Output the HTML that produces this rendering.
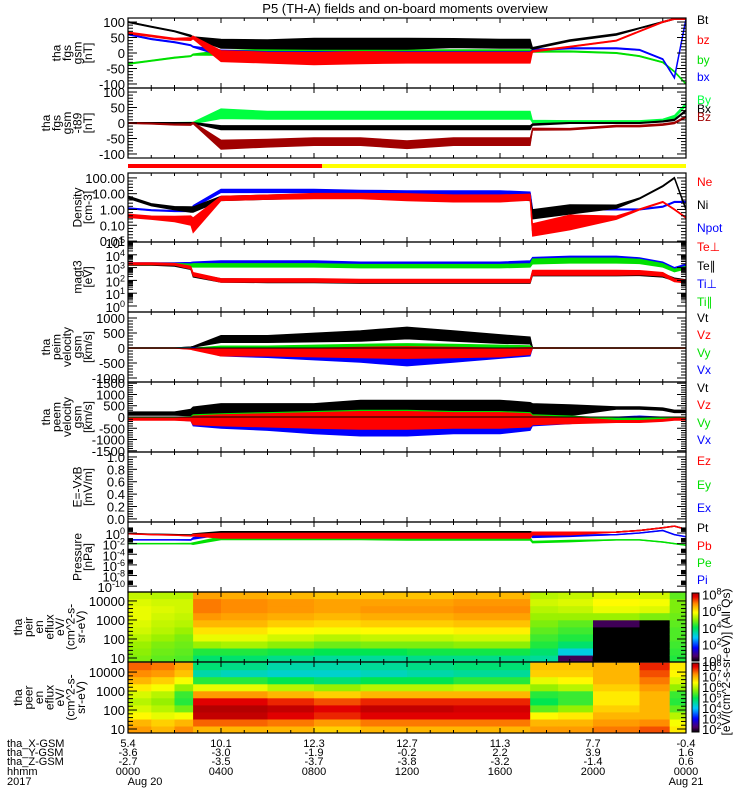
<!DOCTYPE html>
<html><head><meta charset="utf-8"><style>
html,body{margin:0;padding:0;background:#fff;}
svg{display:block;font-family:"Liberation Sans",sans-serif;}
</style></head><body>
<svg id="chart" width="750" height="800" viewBox="0 0 750 800">
<rect width="750" height="800" fill="#fff"/>
<text x="405" y="13" text-anchor="middle" font-size="13">P5 (TH-A) fields and on-board moments overview</text>
<g id="layer"></g>
</svg>
<script>
// ---- shared time grid (hours since 2017-08-20 00:00) ----
const T = [0,1,2,2.7,2.8,4,6,8,10,12,14,16,17.3,17.4,19,21,22,23,23.5,24];
// panel 1: fgs gsm [nT]
const fgsBt = [100,85,70,55,50,30,28,30,30,30,32,30,30,15,40,60,80,100,110,110];
const fgsBtS = [2,2,2,3,3,15,15,18,18,18,15,15,15,3,3,3,2,2,2,2];
const fgsBz = [65,55,45,45,50,-10,-15,-18,-15,-15,-15,-15,-15,5,20,40,70,100,110,110];
const fgsBzS = [3,3,3,5,5,18,18,20,20,18,18,18,18,3,2,2,2,2,2,2];
const fgsBy = [-35,-25,-15,-10,-5,0,5,5,3,3,3,3,3,5,5,0,-10,-30,-60,-100];
const fgsByS = [2,2,2,2,2,8,8,8,8,8,8,8,8,3,2,2,2,2,2,2];
const fgsBx = [60,45,35,25,20,0,-5,-5,-5,-5,-5,-5,-5,10,15,15,10,-20,-80,110];
const fgsBxS = [2,2,2,2,2,10,10,10,10,10,10,10,10,3,2,2,2,2,2,2];
// panel 2: fgs gsm -t89 [nT]
const dBy = [0,0,0,0,0,30,25,25,25,25,25,25,25,5,5,5,5,10,20,60];
const dByS = [2,2,2,3,3,16,13,13,13,13,13,13,13,4,3,3,3,3,5,5];
const dBx = [0,0,0,0,0,-15,-15,-15,-15,-15,-15,-15,-15,-5,0,0,0,5,10,40];
const dBxS = [2,2,2,2,2,7,7,7,7,7,7,7,7,3,2,2,2,2,3,3];
const dBz = [0,-2,-5,-5,0,-70,-65,-60,-60,-70,-60,-60,-60,-20,-20,-10,-10,-5,0,20];
const dBzS = [2,2,2,3,3,15,13,13,13,13,13,13,13,4,3,3,3,3,3,3];
// density [cm-3]
const Ne = [0.4,0.3,0.25,0.2,0.1,5,6,7,7,6,5,5,6,0.05,0.15,0.3,1,3,1,0.3];
const NeF = [1.3,1.3,1.5,2,3,1.4,1.4,1.5,1.5,1.7,1.7,1.7,1.6,2.5,3,1.3,1.1,1.1,1.1,1.1];
const Ni = [6,2,1.2,1,1,5,6,7,7,6,6,6,5,0.5,1,1.5,5,30,100,1];
const NiF = [1.2,1.2,1.3,1.5,1.5,1.4,1.4,1.4,1.4,1.4,1.4,1.4,1.4,2,2,1.3,1.1,1.1,1.1,1.1];
const Npot = [1.2,0.9,0.8,0.8,1.5,15,15,15,13,12,12,12,10,0.9,1,1,1,1.5,3,3];
const NpotF = [1.1,1.1,1.1,1.1,1.2,1.3,1.3,1.3,1.3,1.3,1.3,1.3,1.3,1.1,1.1,1.1,1.1,1.1,1.1,1.1];
// magt3 [eV]
const TeP = [2000,2000,1800,1000,300,100,100,100,90,90,90,90,90,400,400,400,400,300,100,80];
const TeL = [1800,1800,1500,900,250,100,90,90,80,80,80,80,80,350,350,350,350,250,120,90];
const TiP = [2000,2000,2000,2000,2000,2500,2500,2500,2000,2000,2000,2000,2500,4000,5000,5000,4000,2000,800,1500];
const TiL = [1800,1800,1800,1500,1500,1500,1500,1500,1300,1300,1300,1300,1500,3000,3500,3500,3000,1500,600,1000];
const TF = [1.2,1.2,1.2,1.3,1.4,1.4,1.4,1.4,1.4,1.4,1.4,1.4,1.4,1.6,1.6,1.6,1.5,1.4,1.3,1.3];
// peim velocity [km/s]
const iVt = [0,0,0,20,40,300,300,350,400,500,400,300,250,0,0,0,0,0,0,0];
const iVx = [0,0,0,0,0,-150,-200,-250,-300,-400,-300,-200,-150,0,0,0,0,0,0,0];
const iVz = [0,0,0,-30,-50,-150,-150,-150,-150,-150,-150,-150,-100,0,0,0,0,0,0,0];
const iVy = [0,0,0,-10,-20,-50,-50,-50,-50,-50,-50,-50,-40,0,0,0,0,0,0,0];
const iVS = [5,5,5,20,20,120,120,150,180,200,180,150,120,10,5,5,5,5,5,5];
// peem velocity [km/s]
const eVt = [150,150,150,200,250,300,300,300,350,350,350,350,300,300,300,400,400,350,250,250];
const eVtS = [80,80,80,150,200,300,300,300,400,400,400,400,350,300,250,60,60,60,60,60];
const eVx = [-80,-80,-80,-100,-200,-250,-300,-400,-450,-450,-400,-400,-300,-200,-150,-50,0,-50,-50,-50];
const eVz = [-100,-100,-100,-100,-150,-150,-150,-150,-150,-150,-150,-150,-150,-150,-150,-200,-200,-150,-100,-100];
const eVy = [-50,-50,-50,-60,-100,-100,-100,-100,-100,-100,-100,-100,-100,-100,-100,-100,-100,-80,-60,-60];
const eVS = [50,50,50,80,200,250,300,350,400,400,350,350,300,200,150,50,50,50,50,50];
// pressure [nPa]
const Pt = [0.8,0.6,0.5,0.4,0.5,1,1,1,1,1,1,1,1,1,1,1.5,3,10,20,5];
const Pb = [0.7,0.5,0.4,0.3,0.4,0.3,0.3,0.3,0.3,0.3,0.3,0.3,0.3,0.8,0.8,1.5,3,10,20,5];
const PbF = [1.1,1.1,1.1,1.2,1.5,3,3,3,3,3,3,3,3,2,2,1.1,1.1,1.1,1.1,1.1];
const Pe = [0.01,0.01,0.01,0.01,0.01,0.1,0.1,0.1,0.1,0.08,0.08,0.08,0.08,0.02,0.03,0.05,0.05,0.02,0.01,0.005];
const Pi = [0.05,0.05,0.05,0.05,0.1,0.8,0.8,0.8,0.7,0.7,0.7,0.7,0.6,0.2,0.3,0.5,1,3,0.5,0.2];
const PF = [1.1,1.1,1.1,1.2,1.5,2,2,2,2,2,2,2,2,1.5,1.5,1.1,1.1,1.1,1.1,1.1];
// spectrograms (log10 eflux per energy bin, low->high energy)
const specT = [0,1,2,2.8,4,6,8,10,12,14,17.3,18.5,20,22,23.3,24];
const specLogE = [0.79,4.5];
const ionFlux = [
 [4.8,4.9,5,5.2,5.4,5.5,5.6,5.6,5.5,5.3],
 [4.6,4.7,4.8,5,5.2,5.3,5.4,5.5,5.4,5.2],
 [4.5,4.6,4.7,4.8,5,5.2,5.3,5.4,5.4,5.2],
 [3.8,4.2,5,5.6,6,6.4,6.7,6.9,6.9,6.6],
 [3.8,4.2,5.1,5.6,6,6.4,6.6,6.8,6.8,6.5],
 [3.6,4.1,4.9,5.4,5.8,6.2,6.5,6.7,6.7,6.4],
 [3.5,4,4.7,5.2,5.7,6.1,6.4,6.6,6.6,6.3],
 [3.5,4,4.8,5.3,5.8,6.2,6.5,6.7,6.6,6.3],
 [3.6,4.1,4.8,5.3,5.8,6.2,6.5,6.7,6.6,6.3],
 [3.6,4.1,4.9,5.4,5.9,6.3,6.6,6.8,6.7,6.4],
 [3.5,3.8,4.2,4.4,4.6,4.8,5,5.2,5.4,5.2],
 [0.5,3,3.8,4.2,4.4,4.6,5,5.3,5.5,5.3],
 [0,0,0,0,0,0.5,5,5.6,5.8,5.5],
 [0,0,0,0,0,0,4.8,5.5,5.7,5.4],
 [4.2,4.3,4.4,4.5,4.5,4.6,4.7,4.8,4.8,4.6]];
const eleFlux = [
 [7.2,7,6.5,6.2,6,6.2,6.6,7,7.3,7.5],
 [7,6.8,6.3,6,5.8,6,6.4,6.8,7.2,7.4],
 [7.3,7,6.4,5.6,5.2,5.3,5.8,6.4,6.9,7.1],
 [7,7.5,8.2,8.3,8,7.2,6.3,5.2,4.5,4.8],
 [7,7.5,8.2,8.3,8,7.2,6.3,5.2,4.4,4.7],
 [7,7.4,8,8.2,7.8,7,6,5,4.3,4.5],
 [6.8,7.2,7.8,8,7.6,6.8,5.8,4.8,4.3,4.5],
 [7,7.4,8,8.2,7.8,7,6,5,4.4,4.6],
 [7,7.4,8,8.2,7.8,7,6,5,4.5,4.7],
 [7,7.4,8,8.1,7.8,7,6.1,5.2,4.6,4.8],
 [7.2,7,6.5,5.5,5,5.2,5.8,6.3,6.8,6.9],
 [7.2,7,6.6,5.8,5.3,5.3,6,6.5,6.8,6.9],
 [7.4,7.2,7,6.8,6.6,6.6,6.8,7,7,7],
 [7.6,7.3,7,7,7,7,7.2,7.4,7.6,7.8],
 [6.6,6.4,6,5.5,5.2,5.3,5.8,6.2,6.5,6.6]];
// bottom axis labels
const tickHours = [0,4,8,12,16,20,24];
const xGsm = ["5.4","10.1","12.3","12.7","11.3","7.7","-0.4"];
const yGsm = ["-3.6","-3.0","-1.9","-0.2","2.2","3.9","1.6"];
const zGsm = ["-2.7","-3.5","-3.7","-3.8","-3.2","-1.4","0.6"];
const hhmm = ["0000","0400","0800","1200","1600","2000","0000"];

const NS='http://www.w3.org/2000/svg';
const L=document.getElementById('layer');
const X0=128,X1=686;
function xs(t){return X0+(t/24)*(X1-X0);}
function el(tag,attrs,parent){const e=document.createElementNS(NS,tag);for(const k in attrs)e.setAttribute(k,attrs[k]);(parent||L).appendChild(e);return e;}
function mkPanel(top,bot,lo,hi,log){return {top,bot,lo,hi,log,y(v){let u=log?Math.log10(Math.max(v,1e-30)):v;return bot-(u-lo)/(hi-lo)*(bot-top);}};}
const P={
 fgs:mkPanel(18,88,-113,113,false),
 dsl:mkPanel(88,158,-113,113,false),
 den:mkPanel(173,242,-2.06,2.31,true),
 tem:mkPanel(242,312,-0.47,5.0,true),
 vim:mkPanel(312,382,-1133,1200,false),
 vem:mkPanel(382,452,-1555,1555,false),
 efd:mkPanel(452,522,-0.05,1.08,false),
 prs:mkPanel(522,592,-11.1,2.07,true),
 si:mkPanel(592,662,0.79,4.47,true),
 se:mkPanel(662,733,0.79,4.53,true)
};
const defs=el('defs',{});
Object.keys(P).forEach(k=>{const p=P[k];const c=el('clipPath',{id:'c_'+k},defs);el('rect',{x:X0,y:p.top,width:X1-X0,height:p.bot-p.top},c);});

function series(key,vals,spread,mode,color,name){
 const p=P[key];const g=el('g',{'clip-path':'url(#c_'+key+')'});
 
 
 if(spread){let up=[],dn=[];
  for(let i=0;i<T.length;i++){const v=vals[i],s=spread[i];
   const a=mode==='log'?v*s:v+s, b=mode==='log'?v/s:v-s;
   up.push(xs(T[i]).toFixed(1)+','+p.y(a).toFixed(1));dn.unshift(xs(T[i]).toFixed(1)+','+p.y(b).toFixed(1));}
  el('polygon',{points:up.concat(dn).join(' '),fill:color,stroke:color,'stroke-width':0.8},g);}
 const pts=T.map((t,i)=>xs(t).toFixed(1)+','+p.y(vals[i]).toFixed(1)).join(' ');
 el('polyline',{points:pts,fill:'none',stroke:color,'stroke-width':1.5},g);
}
series('fgs',fgsBy,fgsByS,'lin','#00e000','series-by');
series('fgs',fgsBx,fgsBxS,'lin','#0000ff','series-bx');
series('fgs',fgsBt,fgsBtS,'lin','#000','series-bt');
series('fgs',fgsBz,fgsBzS,'lin','#ff0000','series-bz');
series('dsl',dBy,dByS,'lin','#00ff40','series-dby');
series('dsl',dBx,dBxS,'lin','#000','series-dbx');
series('dsl',dBz,dBzS,'lin','#a00000','series-dbz');
series('den',Npot,NpotF,'log','#0000ff','series-npot');
series('den',Ni,NiF,'log','#000','series-ni');
series('den',Ne,NeF,'log','#ff0000','series-ne');
series('tem',TiP,TF,'log','#0000ff','series-ti-perp');
series('tem',TiL,TF,'log','#00e000','series-ti-par');
series('tem',TeL,TF,'log','#000','series-te-par');
series('tem',TeP,TF,'log','#ff0000','series-te-perp');
series('vim',iVt,iVS,'lin','#000','series-peim-vt');
series('vim',iVx,iVS,'lin','#0000ff','series-peim-vx');
series('vim',iVy,iVS,'lin','#00e000','series-peim-vy');
series('vim',iVz,iVS,'lin','#ff0000','series-peim-vz');
series('vem',eVt,eVtS,'lin','#000','series-peem-vt');
series('vem',eVx,eVS,'lin','#0000ff','series-peem-vx');
series('vem',eVy,eVS,'lin','#00e000','series-peem-vy');
series('vem',eVz,eVS,'lin','#ff0000','series-peem-vz');
series('prs',Pe,PF,'log','#00e000','series-pe');
series('prs',Pi,PF,'log','#0000ff','series-pi');
series('prs',Pt,PF,'log','#000','series-pt');
series('prs',Pb,PbF,'log','#ff0000','series-pb');

[['vim',0],['vem',0]].forEach(([k,v])=>{const p=P[k];const ln=el('line',{x1:X0,x2:X1,y1:p.y(v),y2:p.y(v),stroke:'#000','stroke-width':1});});

const CM=[[0,0,0,0],[0.08,80,0,110],[0.2,0,0,255],[0.35,0,200,255],[0.5,0,230,80],[0.62,150,240,0],[0.72,255,255,0],[0.85,255,140,0],[0.95,230,0,0],[1,180,0,0]];
function cmap(t){t=Math.max(0,Math.min(1,t));for(let i=1;i<CM.length;i++){if(t<=CM[i][0]){const a=CM[i-1],b=CM[i],f=(t-a[0])/(b[0]-a[0]);return 'rgb('+[1,2,3].map(j=>Math.round(a[j]+f*(b[j]-a[j]))).join(',')+')';}}return 'rgb(180,0,0)';}
function spec(key,flux,norm,name){
 const p=P[key];const g=el('g',{'clip-path':'url(#c_'+key+')'});
 
 
 const nb=flux[0].length,e0=specLogE[0],e1=specLogE[1],de=(e1-e0)/nb;
 for(let i=0;i<flux.length;i++){const xa=xs(specT[i]),xb=xs(specT[i+1]);
  for(let j=0;j<nb;j++){const ya=p.y(Math.pow(10,e0+(j+1)*de)),yb=p.y(Math.pow(10,e0+j*de));
   const c=el('rect',{x:xa.toFixed(1),y:ya.toFixed(1),width:(xb-xa+0.6).toFixed(1),height:(yb-ya+0.6).toFixed(1),fill:cmap(norm(flux[i][j]))},g);
   
   }}
}
spec('si',ionFlux,v=>v/8,'ion-spectrogram');
spec('se',eleFlux,v=>(v-1.7)/6.6,'electron-spectrogram');

const barR=el('rect',{x:X0,y:164,width:xs(8.35)-X0,height:4,fill:'#ff0000'});
const barY=el('rect',{x:xs(8.35),y:164,width:X1-xs(8.35),height:4,fill:'#ffff00'});

function sup(g,base,exp,x,y,anchor){const tx=el('text',{x,y,'font-size':13,'text-anchor':anchor||'end'},g);tx.appendChild(document.createTextNode(base));const s=el('tspan',{dy:-5,'font-size':9},tx);s.textContent=exp;return tx;}
const yTicks={
 fgs:[[100,'100'],[50,'50'],[0,'0'],[-50,'-50'],[-100,'-100']],
 dsl:[[100,'100'],[50,'50'],[0,'0'],[-50,'-50'],[-100,'-100']],
 den:[[100,'100.00'],[10,'10.00'],[1,'1.00'],[0.1,'0.10'],[0.01,'0.01']],
 vim:[[1000,'1000'],[500,'500'],[0,'0'],[-500,'-500'],[-1000,'-1000']],
 vem:[[1500,'1500'],[1000,'1000'],[500,'500'],[0,'0'],[-500,'-500'],[-1000,'-1000'],[-1500,'-1500']],
 efd:[[1,'1.0'],[0.8,'0.8'],[0.6,'0.6'],[0.4,'0.4'],[0.2,'0.2'],[0,'0.0']],
 si:[[10000,'10000'],[1000,'1000'],[100,'100'],[10,'10']],
 se:[[10000,'10000'],[1000,'1000'],[100,'100'],[10,'10']]
};
const yTicksExp={tem:[5,4,3,2,1,0],prs:[0,-2,-4,-6,-8,-10]};
Object.keys(P).forEach(k=>{const p=P[k];
 const f=el('rect',{x:X0,y:p.top,width:X1-X0,height:p.bot-p.top,fill:'none',stroke:'#000','stroke-width':1.2});
 
 for(let h=1;h<24;h++){const x=xs(h),len=h%4===0?5:3;
  el('line',{x1:x,x2:x,y1:p.top,y2:p.top+len,stroke:'#000'});el('line',{x1:x,x2:x,y1:p.bot,y2:p.bot-len,stroke:'#000'});}
 const g=el('g',{});
 if(yTicks[k]){yTicks[k].forEach(([v,l])=>{const y=p.y(v);el('line',{x1:X0,x2:X0+9,y1:y,y2:y,stroke:'#000'},g);el('line',{x1:X1,x2:X1-9,y1:y,y2:y,stroke:'#000'},g);
  const t=el('text',{x:125,y:y+5,'font-size':13,'text-anchor':'end'},g);t.textContent=l;});
  const tv=yTicks[k].map(a=>a[0]);
  for(let i=0;i+1<tv.length;i++){for(let m=1;m<5;m++){let v=p.log?tv[i+1]*Math.pow(10,m/5):tv[i]+(tv[i+1]-tv[i])*m/5;const y=p.y(v);
   el('line',{x1:X0,x2:X0+5,y1:y,y2:y,stroke:'#000'},g);el('line',{x1:X1,x2:X1-5,y1:y,y2:y,stroke:'#000'},g);}}}
 if(yTicksExp[k]){yTicksExp[k].forEach(e=>{const y=p.y(Math.pow(10,e));el('line',{x1:X0,x2:X0+9,y1:y,y2:y,stroke:'#000'},g);el('line',{x1:X1,x2:X1-9,y1:y,y2:y,stroke:'#000'},g);
  sup(g,'10',String(e),125,y+6);
  for(let m=2;m<10;m++){const yy=p.y(m*Math.pow(10,e));if(yy>p.top&&yy<p.bot){el('line',{x1:X0,x2:X0+5,y1:yy,y2:yy,stroke:'#000'},g);el('line',{x1:X1,x2:X1-5,y1:yy,y2:yy,stroke:'#000'},g);}}});}
});

const titles={fgs:['tha','fgs','gsm','[nT]'],dsl:['tha','fgs','gsm','-t89','[nT]'],den:['Density','[cm-3]'],tem:['magt3','[eV]'],
 vim:['tha','peim','velocity','gsm','[km/s]'],vem:['tha','peem','velocity','gsm','[km/s]'],efd:['E=-VxB','[mV/m]'],prs:['Pressure','[nPa]'],
 si:['tha','peir','en','eflux','eV/','(cm^2-s-','sr-eV)'],se:['tha','peer','en','eflux','eV/','(cm^2-s-','sr-eV)']};
Object.keys(titles).forEach(k=>{const p=P[k],ls=titles[k],cy=(p.top+p.bot)/2;const lastX=(k==='si'||k==='se')?85:92;
 const g=el('g',{});
 ls.forEach((s,i)=>{const x=lastX-(ls.length-1-i)*10.5;const t=el('text',{x:0,y:0,'font-size':12,'text-anchor':'middle',transform:'translate('+x+','+cy+') rotate(-90)'},g);t.textContent=s;});});

const legends=[
 [['Bt','#000',24],['bz','#ff0000',44],['by','#00e000',64],['bx','#0000ff',81]],
 [['By','#00ff40',104],['Bx','#000',113],['Bz','#a00000',121]],
 [['Ne','#ff0000',186],['Ni','#000',209],['Npot','#0000ff',232]],
 [['Te⊥','#ff0000',251],['Te∥','#000',270],['Ti⊥','#0000ff',288],['Ti∥','#00e000',306]],
 [['Vt','#000',322],['Vz','#ff0000',339],['Vy','#00e000',357],['Vx','#0000ff',374]],
 [['Vt','#000',392],['Vz','#ff0000',409],['Vy','#00e000',427],['Vx','#0000ff',444]],
 [['Ez','#ff0000',465],['Ey','#00e000',489],['Ex','#0000ff',512]],
 [['Pt','#000',532],['Pb','#ff0000',550],['Pe','#00e000',567],['Pi','#0000ff',584]]];
legends.forEach(grp=>grp.forEach(([s,c,y])=>{const t=el('text',{x:697,y:y,'font-size':12,fill:c});t.textContent=s;
 }));

function cbar(top,bot,exps,lo,hi,name){const g=el('g',{});
 const n=60;for(let i=0;i<n;i++){const y=bot-(i+1)*(bot-top)/n;el('rect',{x:692,y:y,width:7,height:(bot-top)/n+0.5,fill:cmap((i+0.5)/n)},g);}
 el('rect',{x:692,y:top,width:7,height:bot-top,fill:'none',stroke:'#000'},g);
 exps.forEach(e=>{const y=bot-(e-lo)/(hi-lo)*(bot-top);sup(g,'10',String(e),702,y+5,'start');});}
cbar(593,661,[8,6,4,2,0],0,8.2,'ion-colorbar');
cbar(663,732,[8,7,6,5,4,3,2],1.7,8.3,'electron-colorbar');
const ct=el('text',{x:0,y:0,'font-size':12,'text-anchor':'middle',transform:'translate(730,662) rotate(-90)'});ct.textContent='[eV/(cm^2-s-sr-eV)] (All Qs)';


const rows=[['tha_X-GSM',xGsm,747],['tha_Y-GSM',yGsm,756],['tha_Z-GSM',zGsm,765],['hhmm',hhmm,775]];
rows.forEach(([lab,arr,y])=>{const t=el('text',{x:7,y:y,'font-size':11});t.textContent=lab;
 arr.forEach((s,i)=>{const v=el('text',{x:xs(tickHours[i]),y:y,'font-size':11,'text-anchor':'middle'});v.textContent=s;});});
const yr=el('text',{x:7,y:785,'font-size':11});yr.textContent='2017';
const d1=el('text',{x:xs(0)+17,y:785,'font-size':11,'text-anchor':'middle'});d1.textContent='Aug 20';
const d2=el('text',{x:xs(24),y:785,'font-size':11,'text-anchor':'middle'});d2.textContent='Aug 21';
</script>
</body></html>
